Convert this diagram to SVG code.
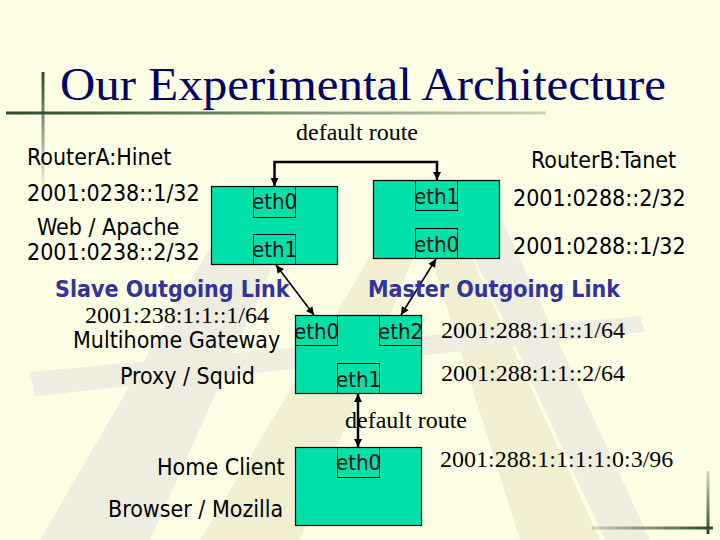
<svg xmlns="http://www.w3.org/2000/svg" width="720" height="540" viewBox="0 0 720 540">
<defs>
<style>
.sans{font-family:"DejaVu Sans Condensed","DejaVu Sans","Liberation Sans",sans-serif;font-stretch:condensed;font-size:23px;fill:#000}
.serif{font-family:"Liberation Serif","Times New Roman",serif;font-size:24px;fill:#000}
.bold{font-family:"DejaVu Sans Condensed","DejaVu Sans","Liberation Sans",sans-serif;font-stretch:condensed;font-size:23px;font-weight:bold;fill:#333399}
.eth{font-family:"DejaVu Sans Condensed","DejaVu Sans","Liberation Sans",sans-serif;font-stretch:condensed;font-size:22px;fill:#111;text-anchor:middle}
.box{fill:#00E0A8;stroke:#000;stroke-width:1.2}
.port{fill:none;stroke:#000;stroke-width:1}
.conn{fill:none;stroke:#000}
.wg{fill:#EEEDDF}
.wo{fill:#F2EED2}
</style>
<marker id="ah" viewBox="0 0 10 10" refX="10" refY="5" markerWidth="9" markerHeight="8" markerUnits="userSpaceOnUse" orient="auto-start-reverse">
<path d="M0,0 L10,5 L0,10 z" fill="#000"/>
</marker>
<linearGradient id="gv" x1="0" y1="0" x2="0" y2="1">
<stop offset="0" stop-color="#2E4A2E"/>
<stop offset="1" stop-color="#2E4A2E" stop-opacity="0.1"/>
</linearGradient>
<linearGradient id="gh" x1="0" y1="0" x2="1" y2="0">
<stop offset="0" stop-color="#2E4A2E"/>
<stop offset="1" stop-color="#2E4A2E" stop-opacity="0.25"/>
</linearGradient>
<linearGradient id="gv2" x1="0" y1="0" x2="0" y2="1">
<stop offset="0" stop-color="#2E4A2E" stop-opacity="0.2"/>
<stop offset="1" stop-color="#2E4A2E"/>
</linearGradient>
<linearGradient id="gh2" x1="0" y1="0" x2="1" y2="0">
<stop offset="0" stop-color="#2E4A2E" stop-opacity="0.2"/>
<stop offset="1" stop-color="#2E4A2E"/>
</linearGradient>
</defs>
<rect x="0" y="0" width="720" height="540" fill="#FFFFE6"/>
<g id="watermark">
<polygon class="wg" points="40,540 150,540 300,205 235,205"/>
<polygon class="wo" points="200,540 300,540 420,240 385,232"/>
<polygon class="wo" points="425,238 462,236 600,540 520,540"/>
<polygon class="wg" points="450,205 495,205 650,540 605,540"/>
<polygon class="wg" points="30,372 640,316 645,332 35,396"/>
</g>
<g id="decor">
<rect x="41.5" y="72" width="3" height="112" fill="url(#gv)"/>
<rect x="6" y="111.5" width="540" height="3" fill="url(#gh)"/>
<rect x="706.5" y="471" width="3" height="63" fill="url(#gv2)"/>
<rect x="592" y="526.5" width="121" height="3" fill="url(#gh2)"/>
</g>
<g id="title">
<text x="60" y="100" font-family="Liberation Serif, Times New Roman, serif" font-size="47" fill="#000066" textLength="606" lengthAdjust="spacingAndGlyphs">Our Experimental Architecture</text>
</g>
<g id="routerA">
<rect class="box" x="211.5" y="186.5" width="126" height="78"/>
<rect class="port" x="253.5" y="186.5" width="42" height="31"/>
<rect class="port" x="253.5" y="234.5" width="42" height="30"/>
<text class="eth" x="274.5" y="209">eth0</text>
<text class="eth" x="274.5" y="257">eth1</text>
</g>
<g id="routerB">
<rect class="box" x="373.5" y="180.5" width="126" height="78"/>
<rect class="port" x="415.5" y="180.5" width="42" height="30"/>
<rect class="port" x="415.5" y="228.5" width="42" height="30"/>
<text class="eth" x="436.5" y="204">eth1</text>
<text class="eth" x="436.5" y="252">eth0</text>
</g>
<g id="gateway">
<rect class="box" x="295.5" y="315.5" width="126" height="78"/>
<rect class="port" x="295.5" y="315.5" width="42" height="30"/>
<rect class="port" x="379.5" y="315.5" width="42" height="30"/>
<rect class="port" x="337.5" y="363.5" width="42" height="30"/>
<text class="eth" x="316.5" y="339">eth0</text>
<text class="eth" x="400.5" y="339">eth2</text>
<text class="eth" x="358.5" y="387">eth1</text>
</g>
<g id="client">
<rect class="box" x="295.5" y="447.5" width="126" height="78"/>
<rect class="port" x="337.5" y="447.5" width="42" height="30"/>
<text class="eth" x="358.5" y="470">eth0</text>
</g>
<g id="connectors">
<path class="conn" stroke-width="2.5" d="M274.5,186 V162 H437 V180" marker-start="url(#ah)" marker-end="url(#ah)"/>
<path class="conn" stroke-width="1.6" d="M276,265 L314,315" marker-start="url(#ah)" marker-end="url(#ah)"/>
<path class="conn" stroke-width="1.6" d="M436,259 L401,315" marker-start="url(#ah)" marker-end="url(#ah)"/>
<path class="conn" stroke-width="2.5" d="M358,394 V447" marker-start="url(#ah)" marker-end="url(#ah)"/>
</g>
<g id="labels">
<text class="serif" x="296" y="140">default route</text>
<text class="sans" x="27" y="165">RouterA:Hinet</text>
<text class="sans" x="27" y="201">2001:0238::1/32</text>
<text class="sans" x="37" y="235">Web / Apache</text>
<text class="sans" x="27" y="260">2001:0238::2/32</text>
<text class="bold" x="55" y="297">Slave Outgoing Link</text>
<text class="bold" x="368" y="297">Master Outgoing Link</text>
<text class="sans" x="531" y="168">RouterB:Tanet</text>
<text class="sans" x="513" y="206">2001:0288::2/32</text>
<text class="sans" x="513" y="254">2001:0288::1/32</text>
<text class="serif" x="85" y="323">2001:238:1:1::1/64</text>
<text class="sans" x="73" y="348">Multihome Gateway</text>
<text class="sans" x="120" y="384">Proxy / Squid</text>
<text class="serif" x="441" y="338">2001:288:1:1::1/64</text>
<text class="serif" x="441" y="381">2001:288:1:1::2/64</text>
<text class="serif" x="345" y="428">default route</text>
<text class="serif" x="440" y="467">2001:288:1:1:1:1:0:3/96</text>
<text class="sans" x="157" y="475">Home Client</text>
<text class="sans" x="108" y="517">Browser / Mozilla</text>
</g>
</svg>
